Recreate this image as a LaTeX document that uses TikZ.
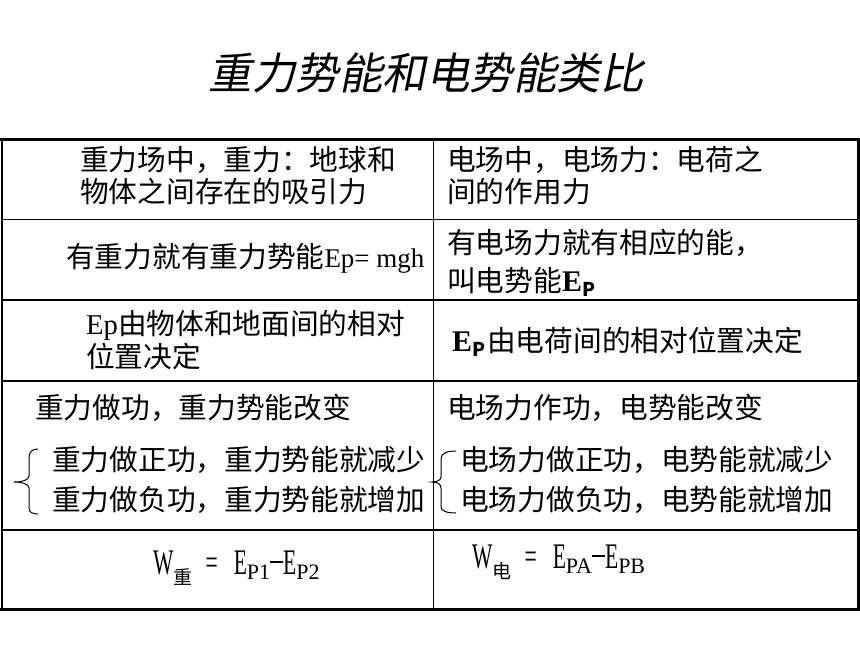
\documentclass[tikz,border=0pt]{standalone}
\usepackage{fontspec}
\setmainfont{Liberation Serif}
\newfontfamily\cjk{Noto Sans CJK SC}
\newfontfamily\cjktitle[FakeSlant=0.2]{Noto Sans CJK SC}
\newfontfamily\cond[FakeStretch=0.6]{Liberation Serif}
\newcommand{\sbs}[1]{\raisebox{-5pt}{\rmfamily\fontsize{22}{22}\selectfont #1}}
\newcommand{\csbs}[1]{\raisebox{-10pt}{\cjk\fontsize{19}{19}\selectfont #1}}
\newcommand{\bsub}[1]{\raisebox{-5pt}{\fontsize{19}{19}\selectfont\bfseries #1}}
\newcommand{\bigE}{{\rmfamily\bfseries\fontsize{30}{30}\selectfont E}}
\newcommand{\mdash}{\raisebox{11pt}{\rule{13pt}{2pt}}}
\tikzset{
  cell/.style={anchor=west, inner sep=0pt, font=\cjk\fontsize{28.7}{32}\selectfont},
  formula/.style={anchor=base west, inner sep=0pt, font=\cond\fontsize{36}{38}\selectfont},
  thinrule/.style={line width=1.5pt},
  thickrule/.style={line width=3pt},
  bracepath/.style={line width=1pt}
}
\begin{document}
\begin{tikzpicture}[x=1pt,y=-1pt]
\useasboundingbox (0,0) rectangle (860,645);
\fill[white] (0,0) rectangle (860,645);
% title
\node[inner sep=0pt, font=\cjktitle\fontsize{43.5}{48}\selectfont] (title) at (426,73) {重力势能和电势能类比};
% table rules
\draw[thinrule] (2,139) -- (2,609);
\draw[thinrule] (433.5,139) -- (433.5,609);
\foreach \yy in {219.5,300,381,530} \draw[thinrule] (2,\yy) -- (858,\yy);
\draw[thickrule] (0,139) -- (860,139);
\draw[thickrule] (858.5,139) -- (858.5,610);
\draw[line width=3.5pt] (0,609.5) -- (860,609.5);
% row 1
\node[cell] (r1l1) at (80,160) {重力场中，重力：地球和};
\node[cell] (r1l2) at (80,192) {物体之间存在的吸引力};
\node[cell] (r1r1) at (447,160) {电场中，电场力：电荷之};
\node[cell] (r1r2) at (447,192) {间的作用力};
% row 2
\node[cell] (r2l) at (66,258) {有重力就有重力势能{\rmfamily\fontsize{27}{30}\selectfont Ep= mgh}};
\node[cell] (r2r1) at (447,243) {有电场力就有相应的能，};
\node[cell] (r2r2) at (447,282) {叫电势能\bigE\bsub{P}};
% row 3
\node[cell] (r3l1) at (86,325) {{\rmfamily Ep}由物体和地面间的相对};
\node[cell] (r3l2) at (86,357) {位置决定};
\node[cell] (r3r) at (452,342) {\bigE\bsub{P}\hspace{2pt}由电荷间的相对位置决定};
% row 4
\node[cell] (r4l) at (35,408) {重力做功，重力势能改变};
\node[cell] (r4r) at (447,408) {电场力作功，电势能改变};
\node[cell] (r4l1) at (52,460) {重力做正功，重力势能就减少};
\node[cell] (r4l2) at (52,500) {重力做负功，重力势能就增加};
\node[cell] (r4r1) at (460,460) {电场力做正功，电势能就减少};
\node[cell] (r4r2) at (460,500) {电场力做负功，电势能就增加};
% braces
\draw[bracepath] (38,449) .. controls (32,449) and (29,452) .. (29,458) -- (29,476)
  .. controls (29,480) and (22,482) .. (14,482) .. controls (22,482) and (29,484) .. (29,488)
  -- (29,508) .. controls (29,512) and (32,514) .. (38,514);
\draw[bracepath] (456,451) .. controls (447,451) and (441,453) .. (441,459) -- (441,477)
  .. controls (441,480) and (437,482) .. (432,482) .. controls (437,482) and (441,484) .. (441,488)
  -- (441,507) .. controls (441,511) and (447,513) .. (456,513);
% row 5
\node[formula] (r5l) at (153,574) {W\csbs{重}\hspace{13pt}=\hspace{16pt}E\sbs{P1}\mdash E\sbs{P2}};
\node[formula] (r5r) at (472,568) {W\csbs{电}\hspace{13pt}=\hspace{16pt}E\sbs{PA}\mdash E\sbs{PB}};
\end{tikzpicture}
\end{document}
